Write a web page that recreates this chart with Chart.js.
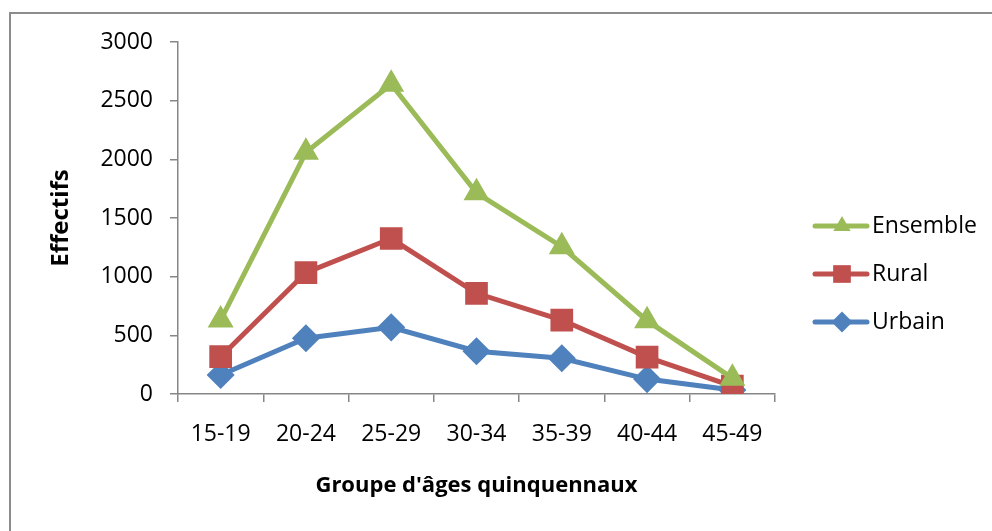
<!DOCTYPE html>
<html>
<head>
<meta charset="utf-8">
<script src="https://cdn.jsdelivr.net/npm/chart.js@4/dist/chart.umd.min.js"></script>
<style>
  html, body { margin: 0; padding: 0; background: #fff; }
  #wrap { position: relative; width: 992px; height: 531px; overflow: hidden; }
  #frame { position: absolute; left: 9px; top: 12px; width: 1100px; height: 600px; border: 2px solid #8c8c8c; box-sizing: border-box; }
  #chartBox { position: absolute; left: 0; top: 0; width: 992px; height: 531px; }
</style>
</head>
<body>
<div id="wrap">
  <div id="frame"></div>
  <div id="chartBox"><canvas id="ageChart"></canvas></div>
</div>
<script>
  const ageGroups = ['15-19', '20-24', '25-29', '30-34', '35-39', '40-44', '45-49'];
  const ensembleValues = [630, 2060, 2640, 1715, 1255, 625, 135];
  const ruralValues = [318, 1035, 1325, 858, 630, 314, 68];
  const urbainValues = [162, 475, 568, 365, 305, 127, 34];

  const fontFamily = "'Open Sans', 'Noto Sans', sans-serif";
  const axisColor = '#868686';

  // legend drawn by hand: line with the marker on it, like the office chart
  const sideLegend = {
    id: 'sideLegend',
    afterDraw(chart) {
      const ctx = chart.ctx;
      const rows = [226, 274, 322];
      chart.data.datasets.forEach((ds, i) => {
        const y = rows[i];
        ctx.save();
        ctx.strokeStyle = ds.borderColor;
        ctx.lineWidth = 5;
        ctx.lineCap = 'round';
        ctx.beginPath();
        ctx.moveTo(815, y);
        ctx.lineTo(867, y);
        ctx.stroke();
        ctx.fillStyle = ds.pointBackgroundColor;
        ctx.beginPath();
        const cx = 842;
        const r = ds.pointRadius;
        if (ds.pointStyle === 'triangle') {
          ctx.moveTo(cx, y - r);
          ctx.lineTo(cx + r * 0.866, y + r * 0.5);
          ctx.lineTo(cx - r * 0.866, y + r * 0.5);
        } else if (ds.pointStyle === 'rect') {
          const s = r * Math.SQRT1_2;
          ctx.rect(cx - s, y - s, 2 * s, 2 * s);
        } else {
          ctx.moveTo(cx - r, y);
          ctx.lineTo(cx, y - r);
          ctx.lineTo(cx + r, y);
          ctx.lineTo(cx, y + r);
        }
        ctx.closePath();
        ctx.fill();
        ctx.fillStyle = '#000';
        ctx.font = '23px ' + fontFamily;
        ctx.textBaseline = 'middle';
        ctx.fillText(ds.label, 872, y);
        ctx.restore();
      });
    }
  };

  const ctx = document.getElementById('ageChart').getContext('2d');
  new Chart(ctx, {
    type: 'line',
    data: {
      labels: ageGroups,
      datasets: [
        {
          label: 'Ensemble',
          data: ensembleValues,
          borderColor: '#9BBB59',
          backgroundColor: '#9BBB59',
          pointBackgroundColor: '#9BBB59',
          pointBorderColor: '#9BBB59',
          pointStyle: 'triangle',
          pointRadius: 10,
          borderWidth: 5,
        },
        {
          label: 'Rural',
          data: ruralValues,
          borderColor: '#C0504D',
          backgroundColor: '#C0504D',
          pointBackgroundColor: '#C0504D',
          pointBorderColor: '#C0504D',
          pointStyle: 'rect',
          pointRadius: 12.5,
          borderWidth: 5,
        },
        {
          label: 'Urbain',
          data: urbainValues,
          borderColor: '#4F81BD',
          backgroundColor: '#4F81BD',
          pointBackgroundColor: '#4F81BD',
          pointBorderColor: '#4F81BD',
          pointStyle: 'rectRot',
          pointRadius: 10.5,
          borderWidth: 5,
        },
      ],
    },
    options: {
      responsive: true,
      maintainAspectRatio: false,
      animation: false,
      layout: { padding: { left: 0, right: 217, top: 42, bottom: 0 } },
      plugins: {
        legend: { display: false },
        tooltip: { enabled: false },
      },
      elements: { line: { tension: 0 }, point: { borderWidth: 1 } },
      scales: {
        x: {
          offset: true,
          grid: {
            offset: true,
            drawOnChartArea: false,
            drawTicks: true,
            tickLength: 8,
            color: axisColor,
            lineWidth: 1.5,
          },
          border: { color: axisColor, width: 1.5 },
          ticks: {
            color: '#000',
            padding: 19,
            maxRotation: 0,
            font: { family: fontFamily, size: 23 },
          },
          title: {
            display: true,
            text: "Groupe d'âges quinquennaux",
            color: '#000',
            font: { family: fontFamily, size: 22, weight: 'bold' },
            padding: { top: 0, bottom: 32 },
          },
          afterFit(scale) { scale.height = 531 - 394; },
        },
        y: {
          min: 0,
          max: 3000,
          ticks: {
            stepSize: 500,
            color: '#000',
            padding: 17,
            font: { family: fontFamily, size: 23 },
            callback: (value) => String(value),
          },
          grid: {
            drawOnChartArea: false,
            drawTicks: true,
            tickLength: 8,
            color: axisColor,
            lineWidth: 1.5,
          },
          border: { color: axisColor, width: 1.5 },
          title: {
            display: true,
            text: 'Effectifs',
            color: '#000',
            font: { family: fontFamily, size: 24, weight: 'bold' },
            padding: { top: 47, bottom: 0 },
          },
          afterFit(scale) { scale.width = 178; },
        },
      },
    },
    plugins: [sideLegend],
  });
</script>
</body>
</html>
